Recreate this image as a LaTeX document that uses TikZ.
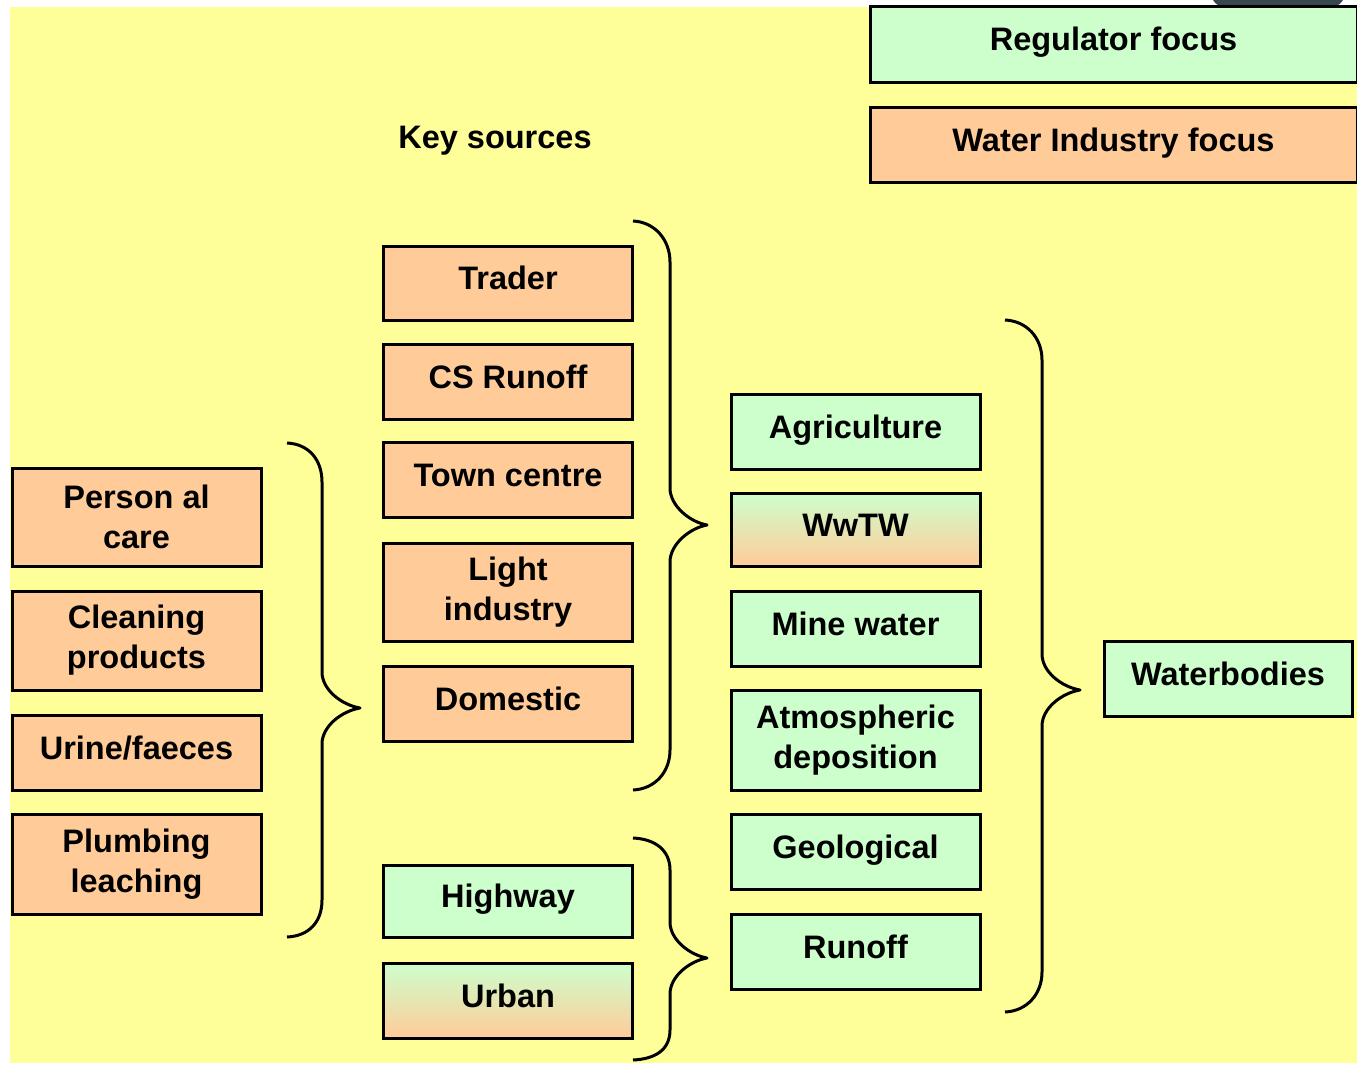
\documentclass[tikz,border=0pt]{standalone}
\usepackage{fontspec}
\setmainfont{Liberation Sans}
\definecolor{bgyellow}{HTML}{FFFF99}
\definecolor{boxorange}{HTML}{FFCC99}
\definecolor{boxgreen}{HTML}{CCFFCC}
\definecolor{darkslate}{HTML}{37474F}
\tikzset{
  box/.style={draw=black, line width=3pt, inner sep=0pt, align=center,
    font=\bfseries\fontsize{32.5}{40}\selectfont, minimum width=249pt, minimum height=75pt},
  sl/.style={text height=23pt, text depth=10pt},
  obox/.style={box, fill=boxorange},
  gbox/.style={box, fill=boxgreen},
  mbox/.style={box, top color=boxgreen, bottom color=boxorange},
  bracepath/.style={draw=black, line width=3pt, line join=round}
}
\begin{document}
\begin{tikzpicture}[x=1pt,y=-1pt]
\useasboundingbox (0,0) rectangle (1357,1065);
\fill[white] (0,0) rectangle (1357,1065);
\fill[bgyellow] (10,7) rectangle (1357,1063);
\fill[darkslate] (1213,0) -- (1343,0) .. controls (1340,5) and (1336,7) .. (1330,7) -- (1226,7) .. controls (1220,7) and (1216,5) .. (1213,0) -- cycle;

% legend
\node[gbox, sl, minimum width=487pt] (reg) at (1113.5,44.5) {Regulator focus};
\node[obox, sl, minimum width=487pt] (wind) at (1113.5,144.5) {Water Industry focus};
\node[sl, inner sep=0pt, font=\bfseries\fontsize{32.5}{40}\selectfont] (key) at (495,142) {Key sources};

% middle column
\node[obox, sl, minimum height=74pt] (trader) at (508,283) {Trader};
\node[obox, sl] (csr) at (508,381.5) {CS Runoff};
\node[obox, sl] (town) at (508,479.5) {Town centre};
\node[obox, minimum height=98pt] (light) at (508,592) {Light\\industry};
\node[obox, sl] (dom) at (508,703.5) {Domestic};
\node[gbox, sl, minimum height=72pt] (hwy) at (508,901) {Highway};
\node[mbox, sl] (urban) at (508,1000.5) {Urban};

% left column
\node[obox, minimum height=98pt] (pc) at (136.5,517) {Person al\\care};
\node[obox, minimum height=99pt] (clean) at (136.5,640.5) {Cleaning\\products};
\node[obox, sl] (urine) at (136.5,752.5) {Urine/faeces};
\node[obox, minimum height=100pt] (plumb) at (136.5,864) {Plumbing\\leaching};

% right column
\node[gbox, sl] (agri) at (855.5,431.5) {Agriculture};
\node[mbox, sl, minimum height=73pt] (wwtw) at (855.5,529.5) {WwTW};
\node[gbox, sl] (mine) at (855.5,628.5) {Mine water};
\node[gbox, minimum height=100pt] (atmo) at (855.5,740) {Atmospheric\\deposition};
\node[gbox, sl] (geo) at (855.5,851.5) {Geological};
\node[gbox, sl] (runoff) at (855.5,951.5) {Runoff};

\node[gbox, sl, minimum width=248pt] (wb) at (1228,678.5) {Waterbodies};

% braces
\coordinate (lbtip) at (360,708);
\coordinate (mutip) at (707,525);
\coordinate (mltip) at (707,958);
\coordinate (rbtip) at (1080,690);

\path[bracepath] (287,443) .. controls (309,444) and (322,460) .. (322,482) -- (322,672)
  .. controls (322,690) and (342,705) .. (lbtip) .. controls (342,711) and (322,726) .. (322,744)
  -- (322,900) .. controls (322,922) and (309,936) .. (287,937);

\path[bracepath] (633,221) .. controls (655,222) and (670,240) .. (670,262) -- (670,488)
  .. controls (670,506) and (690,522) .. (mutip) .. controls (690,528) and (670,544) .. (670,562)
  -- (670,750) .. controls (670,772) and (655,789) .. (633,790);

\path[bracepath] (633,838) .. controls (655,839) and (670,850) .. (670,870) -- (670,922)
  .. controls (670,940) and (690,955) .. (mltip) .. controls (690,961) and (670,976) .. (670,994)
  -- (670,1030) .. controls (670,1050) and (655,1059) .. (633,1060);

\path[bracepath] (1005,320) .. controls (1027,321) and (1042,338) .. (1042,360) -- (1042,654)
  .. controls (1042,672) and (1062,687) .. (rbtip) .. controls (1062,693) and (1042,708) .. (1042,726)
  -- (1042,972) .. controls (1042,994) and (1027,1011) .. (1005,1012);
\end{tikzpicture}
\end{document}
